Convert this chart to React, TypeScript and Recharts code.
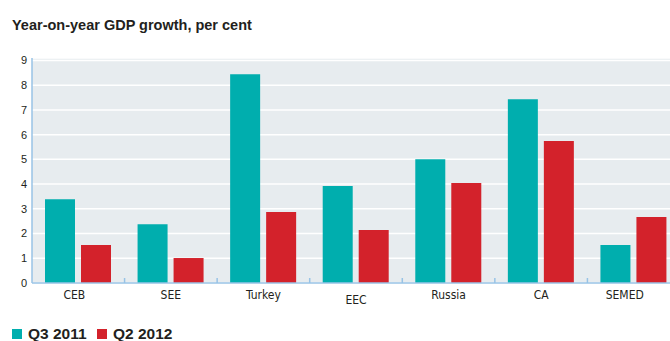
import React from 'react';
import { BarChart, Bar, XAxis, YAxis, CartesianGrid } from 'recharts';

const title = 'Year-on-year GDP growth, per cent';
const categories = ['CEB', 'SEE', 'Turkey', 'EEC', 'Russia', 'CA', 'SEMED'];
const seriesNames = ['Q3 2011', 'Q2 2012'];
const q3_2011 = [3.39, 2.38, 8.44, 3.92, 5.01, 7.43, 1.54];
const q2_2012 = [1.54, 1.01, 2.87, 2.14, 4.04, 5.74, 2.67];
const yTicks = [0, 1, 2, 3, 4, 5, 6, 7, 8, 9];

const data = categories.map((name, i) => ({ name, q3: q3_2011[i], q2: q2_2012[i] }));

const TEAL = '#00AEAE';
const RED = '#D3222B';
const BG = '#E7ECEF';
const AXIS = '#98C3E6';
const TEXT = '#231F20';
const CHART_W = 680;
const CHART_H = 341;
const YAXIS_W = 32;
const PLOT_W = CHART_W - YAXIS_W;
const TICK_GAP = 7;
const NARROW = "'Liberation Sans Narrow', 'DejaVu Sans Condensed', 'Arial Narrow', sans-serif";
const SANS = "'Liberation Sans', Arial, sans-serif";

const labelShift: Record<string, [number, number]> = {
  CEB: [-4, 0],
  EEC: [0, 5],
  SEMED: [-9, 0],
};

const XTick = (props: any) => {
  const { x, y, payload, index } = props;
  const count = categories.length;
  const band = PLOT_W / count;
  const axisY = y - TICK_GAP;
  const [dx, dy] = labelShift[payload.value] || [0, 0];
  return (
    <g>
      <text
        x={x + dx}
        y={y + dy}
        dy="0.71em"
        textAnchor="middle"
        fontFamily={NARROW}
        fontSize={12}
        fill={TEXT}
      >
        {payload.value}
      </text>
      {index < count - 1 && (
        <line
          x1={x + band / 2}
          x2={x + band / 2}
          y1={axisY}
          y2={axisY - 5}
          stroke={AXIS}
          strokeWidth={1.5}
        />
      )}
    </g>
  );
};

export default function App() {
  return (
    <div
      style={{
        position: 'absolute',
        left: 0,
        top: 0,
        width: 670,
        height: 341,
        overflow: 'hidden',
        background: '#fff',
      }}
    >
      <BarChart
        width={CHART_W}
        height={CHART_H}
        data={data}
        margin={{ top: 58, right: 0, bottom: 0, left: 0 }}
        barSize={30}
        barGap={6}
      >
        <CartesianGrid vertical={false} stroke="#FFFFFF" strokeWidth={1.5} fill={BG} />
        <Bar dataKey="q3" name={seriesNames[0]} fill={TEAL} isAnimationActive={false} />
        <Bar dataKey="q2" name={seriesNames[1]} fill={RED} isAnimationActive={false} />
        <YAxis
          type="number"
          domain={[0, 9.1]}
          ticks={yTicks}
          width={YAXIS_W}
          tickLine={false}
          tickSize={0}
          tickMargin={5}
          axisLine={{ stroke: AXIS, strokeWidth: 1.5 }}
          tick={{ fontSize: 11, fill: TEXT, fontFamily: SANS }}
          interval={0}
        />
        <XAxis
          dataKey="name"
          height={58}
          tickLine={false}
          tickSize={0}
          tickMargin={TICK_GAP}
          axisLine={{ stroke: AXIS, strokeWidth: 1.5 }}
          tick={<XTick />}
          interval={0}
        />
      </BarChart>
      <svg
        width={670}
        height={341}
        style={{ position: 'absolute', left: 0, top: 0, pointerEvents: 'none' }}
      >
        <text x={12} y={30} fontFamily={SANS} fontWeight="bold" fontSize={14.5} fill={TEXT}>
          {title}
        </text>
        <rect x={12} y={329} width={10} height={10} fill={TEAL} />
        <text x={28} y={339} fontFamily={SANS} fontWeight="bold" fontSize={15.5} fill={TEXT}>
          {seriesNames[0]}
        </text>
        <rect x={97} y={329} width={10} height={10} fill={RED} />
        <text x={113} y={339} fontFamily={SANS} fontWeight="bold" fontSize={15.5} fill={TEXT}>
          {seriesNames[1]}
        </text>
      </svg>
    </div>
  );
}
